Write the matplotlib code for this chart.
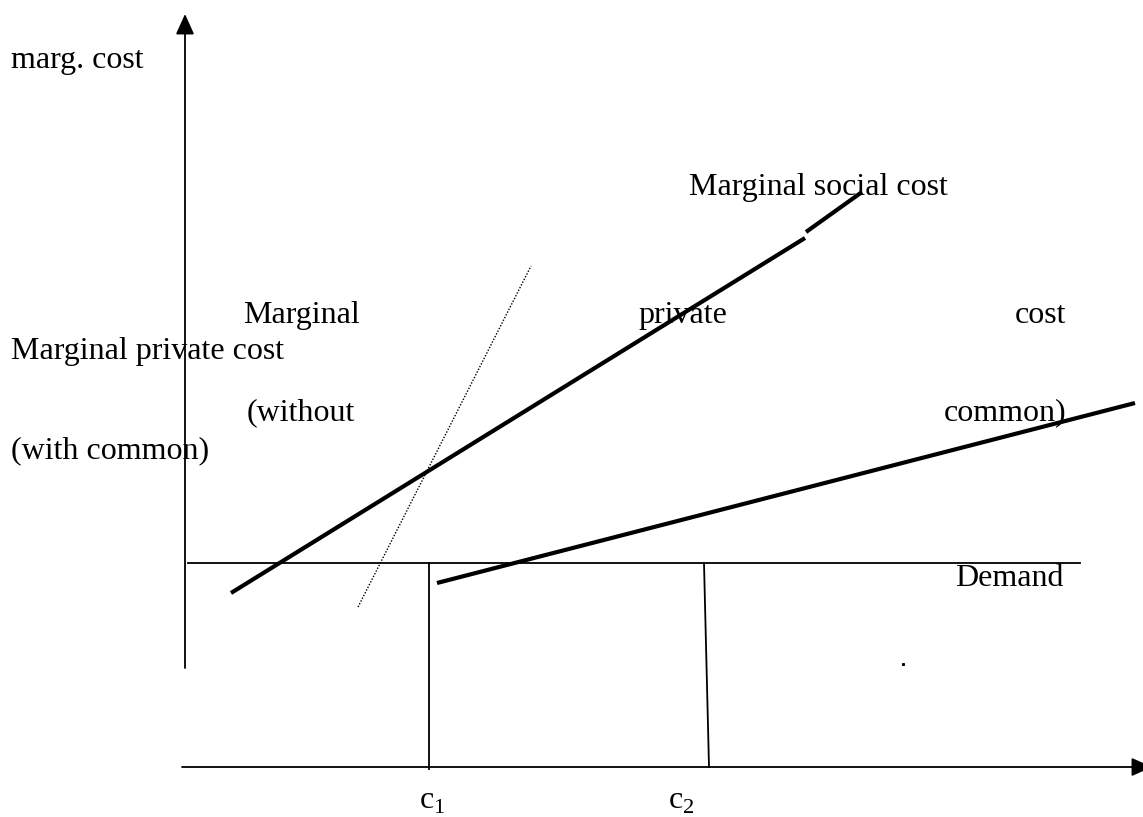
import matplotlib
matplotlib.use("Agg")
import matplotlib.pyplot as plt

plt.rcParams['font.family'] = ['Liberation Serif', 'DejaVu Serif']
plt.rcParams['mathtext.fontset'] = 'custom'
plt.rcParams['mathtext.rm'] = 'Liberation Serif'

# schematic in picture units (x to the right, y downward)
msc_x = [231, 805]
msc_y = [593, 238]
msc_top_x = [806, 862]
msc_top_y = [232, 192]

mpc_x = [437, 1135]
mpc_y = [583, 403]

steep_x = [358, 531]
steep_y = [607, 266]

demand_x = [188, 1080]
demand_y = [563, 563]

c1_x = [429, 429]
c1_y = [563, 769]
c2_x = [704, 709]
c2_y = [563, 767]

yaxis_x = [185, 185]
yaxis_y = [668, 14]
xaxis_x = [182, 1152]
xaxis_y = [767, 767]

# left aligned labels
labels = ["marg. cost", "Marginal social cost", "Marginal", "private",
          "Marginal private cost", "(without", "(with common)",
          r"c$_1$", r"c$_2$"]
label_x = [11, 689, 243, 638, 11, 247, 11, 419, 668]
label_y = [68, 195, 323, 323, 359, 420, 458, 809, 809]

# words ending on the right margin
right_labels = ["cost", "common)", "Demand"]
right_x = [1066, 1066, 1064]
right_y = [323, 420, 586]

fs = 23

fig = plt.figure(figsize=(11.43, 8.17), dpi=100)
ax = fig.add_axes([0, 0, 1, 1])
ax.set_xlim(0, 1143)
ax.set_ylim(817, 0)
ax.axis('off')

thick = 3.0
thin = 1.3

ax.plot(msc_x, msc_y, color='black', lw=thick, solid_capstyle='butt')
ax.plot(msc_top_x, msc_top_y, color='black', lw=thick, solid_capstyle='butt')
ax.plot(mpc_x, mpc_y, color='black', lw=thick, solid_capstyle='butt')
ax.plot(steep_x, steep_y, color='black', lw=1.0, linestyle=(0, (1, 1.2)))
ax.plot(demand_x, demand_y, color='black', lw=thin)
ax.plot(c1_x, c1_y, color='black', lw=thin)
ax.plot(c2_x, c2_y, color='black', lw=thin)

# axes with arrowheads
arrow = dict(arrowstyle='-|>,head_length=1.0,head_width=0.45',
             color='black', lw=thin, mutation_scale=12.5,
             shrinkA=0, shrinkB=0)
ax.annotate('', xy=(yaxis_x[1], yaxis_y[1]), xytext=(yaxis_x[0], yaxis_y[0]),
            arrowprops=arrow)
ax.annotate('', xy=(xaxis_x[1], xaxis_y[1]), xytext=(xaxis_x[0], xaxis_y[0]),
            arrowprops=arrow, annotation_clip=False)

# stray dot
ax.plot([903], [664], marker='s', ms=1.2, color='black', lw=0)

for t, x, y in zip(labels, label_x, label_y):
    ax.text(x, y, t, fontsize=fs, ha='left', va='baseline', color='black')
for t, x, y in zip(right_labels, right_x, right_y):
    ax.text(x, y, t, fontsize=fs, ha='right', va='baseline', color='black')

fig.savefig("out.png", dpi=100)
